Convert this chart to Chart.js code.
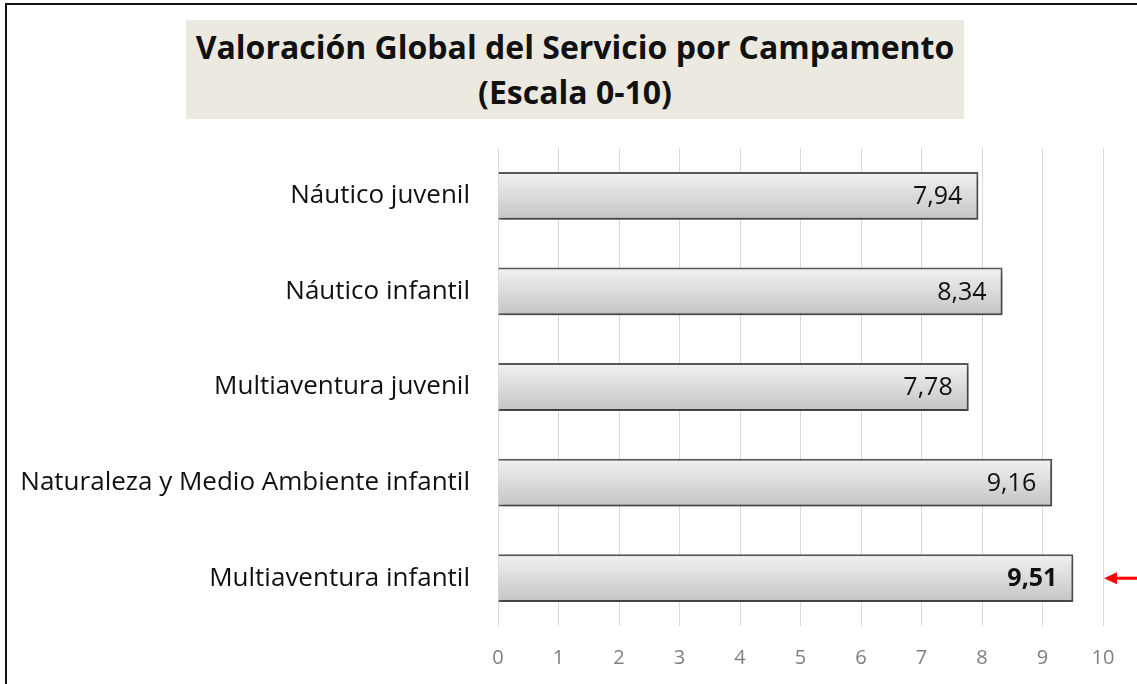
<!DOCTYPE html>
<html><head><meta charset="utf-8">
<script src="https://cdn.jsdelivr.net/npm/chart.js@4.4.1/dist/chart.umd.min.js"></script>
<style>
html,body{margin:0;padding:0;background:#fff;width:1137px;height:684px;overflow:hidden;}
#wrap{position:relative;width:1137px;height:684px;}
#frame{position:absolute;left:5px;top:3px;width:1140px;height:700px;border:2px solid #111;box-sizing:border-box;pointer-events:none;}
#title{position:absolute;left:186px;top:20px;width:778px;height:99px;background:#ECEAE0;
 font-family:"Open Sans",Lato,sans-serif;font-weight:bold;font-size:32px;line-height:45px;text-align:center;color:#111;padding-top:4px;box-sizing:border-box;white-space:nowrap;}
canvas{position:absolute;left:0;top:0;}
</style></head>
<body><div id="wrap">
<canvas id="c" width="1137" height="684"></canvas>
<div id="title">Valoración Global del Servicio por Campamento<br>(Escala 0-10)</div>
<div id="frame"></div>
</div>
<script>
const categories = ["Náutico juvenil","Náutico infantil","Multiaventura juvenil","Naturaleza y Medio Ambiente infantil","Multiaventura infantil"];
const values = [7.94, 8.34, 7.78, 9.16, 9.51];
const valueLabels = ["7,94","8,34","7,78","9,16","9,51"];
const tickValues = [0,1,2,3,4,5,6,7,8,9,10];
const highlightIndex = 4;

const FONT = '"Open Sans", Lato, sans-serif';

const shadowPlugin = {
  id:'shadow',
  beforeDatasetsDraw(chart){ const c=chart.ctx; c.save(); c.shadowColor='rgba(0,0,0,0.35)'; c.shadowBlur=5; c.shadowOffsetX=2; c.shadowOffsetY=3; },
  afterDatasetsDraw(chart){ chart.ctx.restore(); }
};
const labelPlugin = {
  id:'vlabels',
  afterDatasetsDraw(chart){
    const c=chart.ctx; const meta=chart.getDatasetMeta(0);
    c.save(); c.fillStyle='#111'; c.textAlign='right'; c.textBaseline='middle';
    meta.data.forEach((bar,i)=>{
      c.font=(i===highlightIndex?'bold ':'')+'25px '+FONT;
      c.fillText(valueLabels[i], bar.x-16, bar.y+1);
    });
    const bar=meta.data[highlightIndex];
    const xs=chart.scales.x;
    const x0=xs.getPixelForValue(10)+1, y=bar.y;
    c.strokeStyle='#FF0000'; c.fillStyle='#FF0000'; c.lineWidth=3;
    c.beginPath(); c.moveTo(x0+10,y); c.lineTo(1137,y); c.stroke();
    c.beginPath(); c.moveTo(x0,y); c.lineTo(x0+13,y-6); c.lineTo(x0+13,y+6); c.closePath(); c.fill();
    c.restore();
  }
};

new Chart(document.getElementById('c'),{
  type:'bar',
  data:{labels:categories,datasets:[{
    data:values,
    backgroundColor(ctx){
      const ch=ctx.chart;
      if(!ch.chartArea||!ch.scales||!ch.scales.y) return '#ddd';
      const yc=ch.scales.y.getPixelForValue(ctx.dataIndex);
      if(!Number.isFinite(yc)) return '#ddd';
      const h=48; const y0=yc-h/2;
      const g=ch.ctx.createLinearGradient(0,y0,0,y0+h);
      g.addColorStop(0,'#F2F2F2'); g.addColorStop(1,'#C4C4C4');
      return g;
    },
    borderColor:'#595959',borderWidth:2,borderSkipped:'start',
    barPercentage:0.5,categoryPercentage:1.0
  }]},
  options:{
    indexAxis:'y',responsive:false,animation:false,devicePixelRatio:1,
    layout:{padding:{left:0,right:34,top:148,bottom:0}},
    plugins:{legend:{display:false},tooltip:{enabled:false},title:{display:false}},
    scales:{
      x:{min:0,max:10,afterBuildTicks(s){s.ticks=tickValues.map(v=>({value:v}));},
        grid:{color:'#D9D9D9',lineWidth:1,drawTicks:false},border:{display:false},
        ticks:{color:'#7F7F7F',font:{family:FONT,size:20},padding:20},
        afterFit(s){s.height=58;}},
      y:{grid:{display:false},border:{display:false},
        ticks:{color:'#111',font:{family:FONT,size:26},padding:20},
        afterFit(s){s.width=498;}}
    }
  },
  plugins:[shadowPlugin,labelPlugin]
});
</script></body></html>
